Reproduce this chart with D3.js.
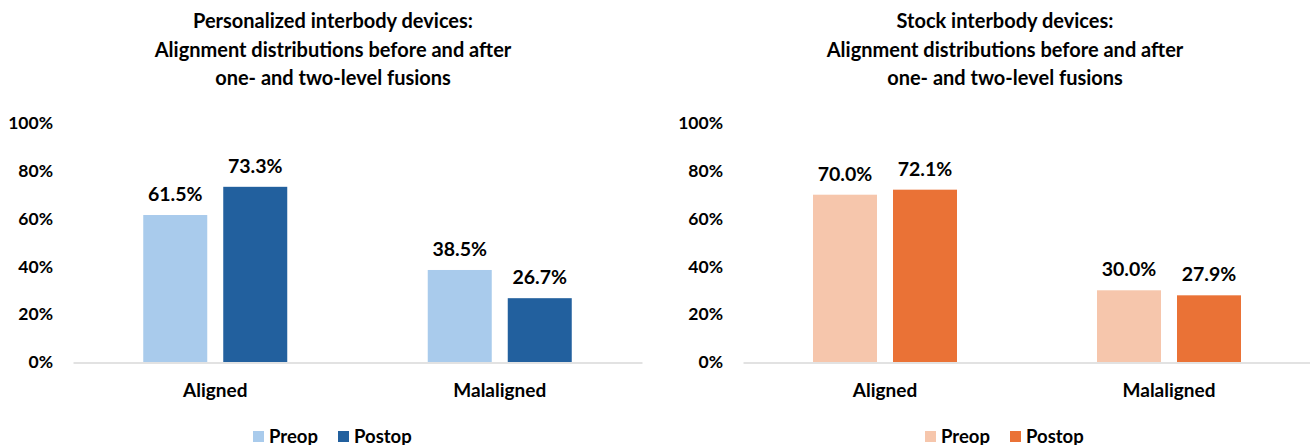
<!DOCTYPE html>
<html>
<head>
<meta charset="utf-8">
<script src="https://cdn.jsdelivr.net/npm/d3@7"></script>
<style>
  body { margin: 0; background: #fff; }
  svg text { font-family: Lato, "Open Sans", sans-serif; font-weight: 700; fill: #000; }
</style>
</head>
<body>
<div id="chart"></div>
<script>
// chart data
var categories = ["Aligned", "Malaligned"];
var seriesNames = ["Preop", "Postop"];
var personalizedPreop = [61.5, 38.5];
var personalizedPostop = [73.3, 26.7];
var stockPreop = [70.0, 30.0];
var stockPostop = [72.1, 27.9];
var yTicks = [0, 20, 40, 60, 80, 100];

var panels = [
  {
    title: ["Personalized interbody devices:", "Alignment distributions before and after", "one- and two-level fusions"],
    values: [personalizedPreop, personalizedPostop],
    colors: ["#A9CBEC", "#22609E"],
    left: 73, right: 642, titleX: 333, legendX: 253
  },
  {
    title: ["Stock interbody devices:", "Alignment distributions before and after", "one- and two-level fusions"],
    values: [stockPreop, stockPostop],
    colors: ["#F6C6AC", "#EA7236"],
    left: 743, right: 1311, titleX: 1005, legendX: 925
  }
];

var width = 1310, height = 445;
var plotTop = 123, plotBottom = 362;

var svg = d3.select("#chart").append("svg")
  .attr("width", width)
  .attr("height", height);

var y = d3.scaleLinear().domain([0, 100]).range([plotBottom, plotTop]);

panels.forEach(function(p) {
  var g = svg.append("g");

  // title
  g.append("text")
    .attr("text-anchor", "middle")
    .attr("font-size", 20)
    .selectAll("tspan")
    .data(p.title)
    .enter().append("tspan")
    .attr("x", p.titleX)
    .attr("y", function(d, i) { return 28 + i * 28.5; })
    .text(function(d) { return d; });

  var x0 = d3.scaleBand().domain(categories).range([p.left, p.right]);
  var x1 = d3.scaleBand().domain(seriesNames).range([0, 144]).paddingInner(0.2);

  // y axis labels
  var yAxis = d3.axisLeft(y).tickValues(yTicks)
    .tickFormat(function(d) { return d + "%"; })
    .tickSize(0).tickPadding(20);
  var ya = g.append("g")
    .attr("transform", "translate(" + p.left + ",0)")
    .call(yAxis);
  ya.select(".domain").remove();
  ya.selectAll("text").attr("font-size", 17.5).style("font-family", null);

  // bars
  seriesNames.forEach(function(s, si) {
    var bars = g.selectAll(null)
      .data(categories.map(function(c, ci) { return {cat: c, v: p.values[si][ci]}; }))
      .enter();
    bars.append("rect")
      .attr("x", function(d) { return x0(d.cat) + x0.bandwidth() / 2 - 72 + x1(s); })
      .attr("y", function(d) { return y(d.v); })
      .attr("width", x1.bandwidth())
      .attr("height", function(d) { return plotBottom - y(d.v); })
      .attr("fill", p.colors[si]);
    bars.append("text")
      .attr("x", function(d) { return x0(d.cat) + x0.bandwidth() / 2 - 72 + x1(s) + x1.bandwidth() / 2; })
      .attr("y", function(d) { return y(d.v) - 14; })
      .attr("text-anchor", "middle")
      .attr("font-size", 19.5)
      .text(function(d) { return d.v.toFixed(1) + "%"; });
  });

  // x axis
  var xAxis = d3.axisBottom(x0).tickSize(0).tickPadding(21);
  var xa = g.append("g")
    .attr("transform", "translate(0," + (plotBottom + 0.5) + ")")
    .call(xAxis);
  xa.select(".domain").attr("stroke", "#d9d9d9").attr("stroke-width", 1.3);
  xa.selectAll("text").attr("font-size", 19).style("font-family", null);

  // legend
  var lg = g.append("g").attr("transform", "translate(" + p.legendX + ",431)");
  seriesNames.forEach(function(s, si) {
    var off = si * 85;
    lg.append("rect")
      .attr("x", off).attr("y", 0)
      .attr("width", 11).attr("height", 11)
      .attr("fill", p.colors[si]);
    lg.append("text")
      .attr("x", off + 16).attr("y", 11.5)
      .attr("font-size", 18.5)
      .text(s);
  });
});
</script>
</body>
</html>
